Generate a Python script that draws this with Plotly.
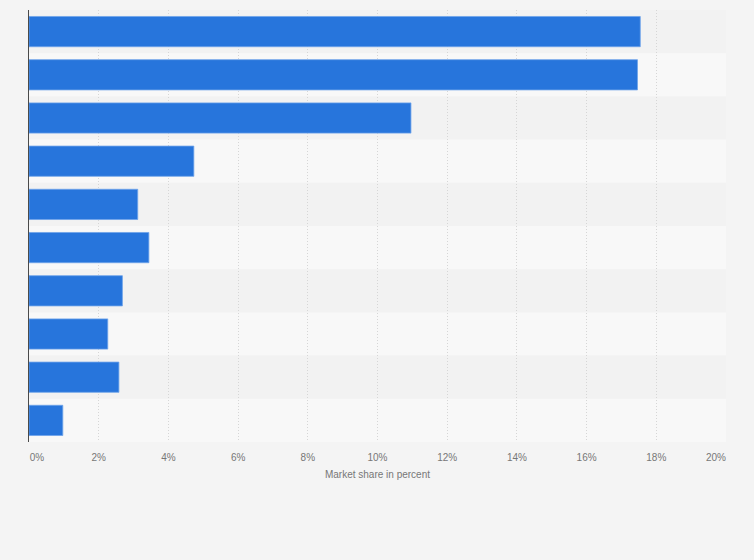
import plotly.graph_objects as go

# Market share by company (labels not shown in the original chart)
companies = ['Company 1', 'Company 2', 'Company 3', 'Company 4', 'Company 5',
             'Company 6', 'Company 7', 'Company 8', 'Company 9', 'Company 10']
market_share = [17.54, 17.46, 10.96, 4.73, 3.12, 3.44, 2.68, 2.26, 2.58, 0.97]

tick_values = [0, 2, 4, 6, 8, 10, 12, 14, 16, 18, 20]
tick_labels = ['0%', '2%', '4%', '6%', '8%', '10%', '12%', '14%', '16%', '18%', '20%']

fig = go.Figure(go.Bar(
    x=market_share,
    y=companies,
    orientation='h',
    marker=dict(color='#2775dc', line=dict(color='#6ea3ea', width=0.8)),
))

# alternating row bands
for i, _ in enumerate(companies):
    fig.add_shape(type='rect', xref='paper', yref='y', layer='below',
                  x0=0, x1=1, y0=i - 0.5, y1=i + 0.5, line_width=0,
                  fillcolor='#f2f2f2' if i % 2 == 0 else '#f8f8f8')

# first and last labels are pulled inward a little, like the original
label_pos = list(tick_values)
label_pos[0] += 0.23
label_pos[-1] -= 0.29

fig.update_layout(
    width=754, height=560,
    margin=dict(l=29, r=28, t=10, b=118),
    paper_bgcolor='#f4f4f4',
    plot_bgcolor='#f4f4f4',
    bargap=0.3,
    showlegend=False,
    font=dict(family='Liberation Sans, Arial, sans-serif', size=10, color='#777777'),
    xaxis=dict(
        range=[0, 20],
        tickvals=tick_values,
        showticklabels=False,
        showgrid=True,
        gridcolor='#d6d6d6',
        griddash='1px,2px',
        gridwidth=1,
        zeroline=False,
        ticks='outside', ticklen=6, tickcolor='rgba(0,0,0,0)',
        title=dict(text='Market share in percent', standoff=22,
                   font=dict(size=10, color='#777777')),
    ),
    xaxis2=dict(
        range=[0, 20],
        overlaying='x',
        anchor='y',
        side='bottom',
        tickvals=label_pos,
        ticktext=tick_labels,
        showgrid=False,
        zeroline=False,
        ticks='outside', ticklen=6, tickcolor='rgba(0,0,0,0)',
    ),
    yaxis=dict(
        autorange='reversed',
        showticklabels=False,
        showgrid=False,
        zeroline=False,
        showline=True,
        linecolor='#4a4a4a',
        linewidth=1,
    ),
)

# empty trace so the label axis gets drawn
fig.add_trace(go.Scatter(x=[None], y=[None], xaxis='x2', showlegend=False,
                         hoverinfo='skip'))

# drop the default page margin so the figure sits at the window corner
fig.write_html('out.html', config={'displayModeBar': False},
               post_script="document.body.style.margin='0';")
